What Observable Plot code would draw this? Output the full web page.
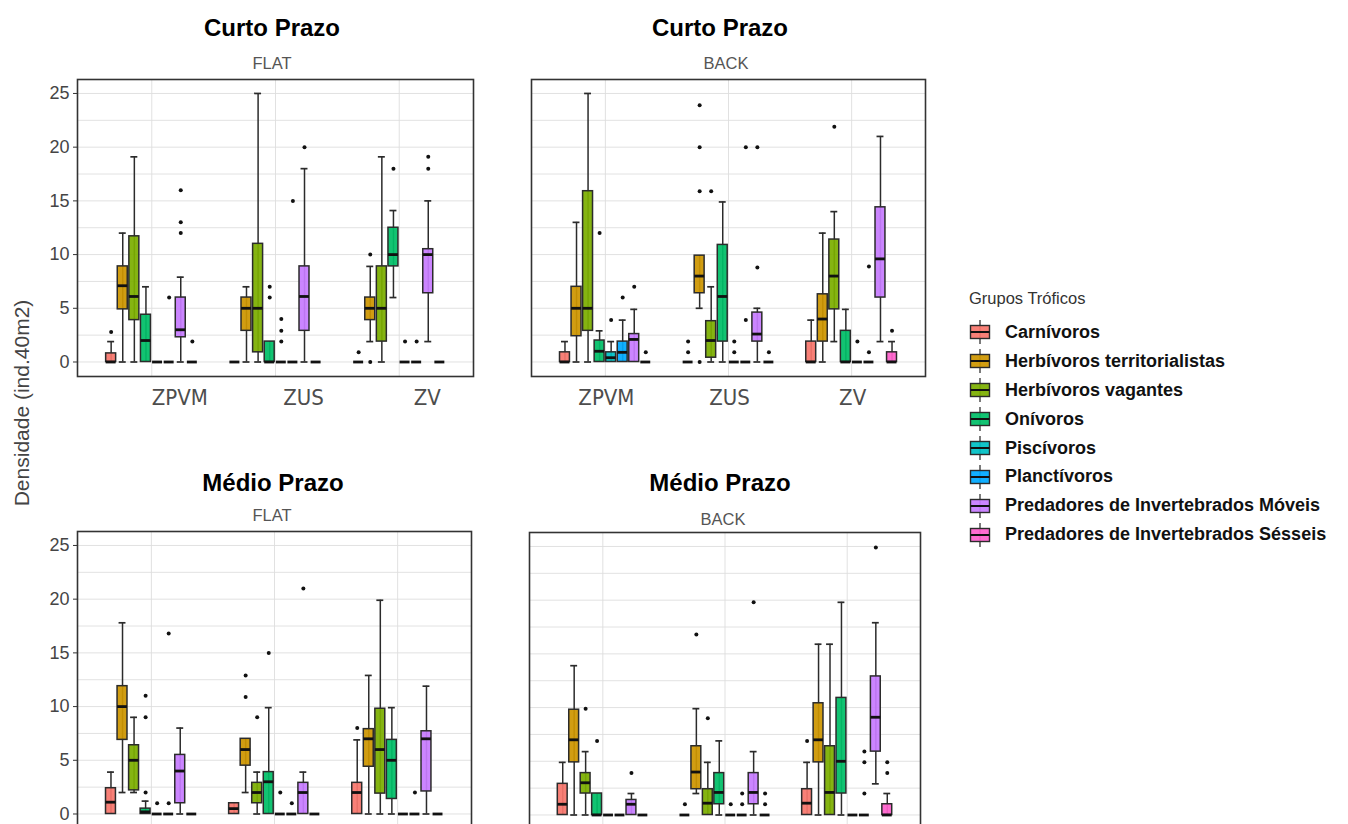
<!DOCTYPE html>
<html><head><meta charset="utf-8">
<script src="https://cdn.jsdelivr.net/npm/d3@7"></script>
<script src="https://cdn.jsdelivr.net/npm/@observablehq/plot@0.6"></script>
<style>
body{margin:0;background:#fff;font-family:"Liberation Sans",Arial,sans-serif;}
#wrap{position:relative;width:1348px;height:824px;overflow:hidden;background:#fff;}
.panel{position:absolute;}
.title{position:absolute;transform:translate(-50%,-50%);font-weight:bold;font-size:24px;color:#000;white-space:nowrap;}
.sub{position:absolute;transform:translate(-50%,-50%);font-size:16.5px;color:#555;white-space:nowrap;}
.ytitle{position:absolute;left:22px;top:403px;transform:translate(-50%,-50%) rotate(-90deg);font-size:21px;color:#444;white-space:nowrap;}
.legend{position:absolute;left:969px;top:287px;}
.legend .lt{font-size:16.5px;color:#333;height:22px;line-height:22px;margin-bottom:9px;}
.legend .row{display:flex;align-items:center;height:28.9px;}
.legend .row svg{margin-right:14px;}
.legend .row span{font-weight:bold;font-size:18px;color:#111;}
</style></head>
<body><div id="wrap"></div>
<script>
// ---- categories ----
const groups = ["Carnívoros","Herbívoros territorialistas","Herbívoros vagantes","Onívoros","Piscívoros","Planctívoros","Predadores de Invertebrados Móveis","Predadores de Invertebrados Sésseis"];
const groupColors = ["#F8766D","#CD9600","#7CAE00","#00BE67","#00BFC4","#00A9FF","#C77CFF","#FF61CC"];
const sites = ["ZPVM","ZUS","ZV"];
const yTicks = [0,5,10,15,20,25];

// ---- box statistics: [lower whisker, Q1, median, Q3, upper whisker], one per trophic group ----
// Curto Prazo – FLAT
const cpFlatZPVM = [[0,0,0,0.8,1.9],[0,4.9,7.1,8.9,12],[0,3.9,6.1,11.7,19.1],[0,0,2,4.4,7],[0,0,0,0,0],[0,0,0,0,0],[0,2.3,3,6,7.9],[0,0,0,0,0]];
const cpFlatZUS  = [[0,0,0,0,0],[0,2.9,5,6,7],[0,0.9,5,11,25],[0,0,0,1.9,1.9],[0,0,0,0,0],[0,0,0,0,0],[0,2.9,6.1,8.9,18],[0,0,0,0,0]];
const cpFlatZV   = [[0,0,0,0,0],[1.9,3.9,5,6,8.9],[0,1.9,5,8.9,19.1],[6,8.9,10,12.5,14.1],[0,0,0,0,0],[0,0,0,0,0],[1.9,6.4,10,10.5,15],[0,0,0,0,0]];
// Curto Prazo – BACK
const cpBackZPVM = [[0,0,0,0.9,1.9],[0,2.4,5,7,13],[0,2.9,5,15.9,25],[0,0,1,2,2.9],[0,0,0.4,0.9,1.9],[0,0,0.9,1.9,3.9],[0,0,2.1,2.6,4.9],[0,0,0,0,0]];
const cpBackZUS  = [[0,0,0,0,0],[5,6.4,8,9.9,9.9],[0,0.4,2,3.8,7],[0,1.9,6.1,10.9,14.9],[0,0,0,0,0],[0,0,0,0,0],[0,1.9,2.6,4.6,5],[0,0,0,0,0]];
const cpBackZV   = [[0,0,0,1.9,3.9],[0,1.9,4,6.3,12],[1.9,4.9,8,11.4,14],[0,0,0,2.9,4.9],[0,0,0,0,0],[0,0,0,0,0],[1.9,6,9.6,14.4,21],[0,0,0,0.9,1.9]];
// Médio Prazo – FLAT
const mpFlatZPVM = [[0,0,1.1,2.4,3.9],[2,6.9,10,11.9,17.8],[2,2.2,5,6.4,9],[0,0,0.2,0.5,1.2],[0,0,0,0,0],[0,0,0,0,0],[0,1,4,5.5,8],[0,0,0,0,0]];
const mpFlatZUS  = [[0,0,0.5,1,1],[2,4.5,6,7,7],[0,1,2,2.9,3.9],[0,0,3,3.9,9.9],[0,0,0,0,0],[0,0,0,0,0],[0,0,2,2.9,3.9],[0,0,0,0,0]];
const mpFlatZV   = [[0,0,2,2.9,6.9],[0,4.4,7,7.9,12.9],[0,1.9,6,9.8,19.9],[0,1.4,5,6.9,9.9],[0,0,0,0,0],[0,0,0,0,0],[0,2.1,7,7.7,11.9],[0,0,0,0,0]];
// Médio Prazo – BACK
const mpBackZPVM = [[0,0,1,2.9,4.9],[0,4.9,7,9.8,13.9],[0,2,3,3.9,5.9],[0,0,0,2,2],[0,0,0,0,0],[0,0,0,0,0],[0,0,1,1.4,2],[0,0,0,0,0]];
const mpBackZUS  = [[0,0,0,0,0],[2,2.4,4,6.4,9.9],[0,0,1.1,2.4,4.9],[0,1,2.1,3.9,6.9],[0,0,0,0,0],[0,0,0,0,0],[0,1,2.1,3.9,5.9],[0,0,0,0,0]];
const mpBackZV   = [[0,0,1.1,2.4,4.9],[0,4.9,7,10.4,15.9],[0,0,2.1,6.4,15.9],[0,2,5,10.9,19.8],[0,0,0,0,0],[0,0,0,0,0],[2.9,5.9,9.1,12.9,17.9],[0,0,0,1,2]];

// ---- outliers: [site, group index, value] ----
const cpFlatOut = [["ZPVM",0,2.8],["ZPVM",5,6],["ZPVM",6,12],["ZPVM",6,13],["ZPVM",6,16],["ZPVM",7,1.9],
  ["ZUS",3,6],["ZUS",3,7],["ZUS",4,1.9],["ZUS",4,2.9],["ZUS",4,4],["ZUS",5,15],["ZUS",6,20],
  ["ZV",0,0.9],["ZV",1,0],["ZV",1,10],["ZV",3,18],["ZV",4,1.9],["ZV",5,1.9],["ZV",6,18],["ZV",6,19.1]];
const cpBackOut = [["ZPVM",3,12],["ZPVM",4,3.9],["ZPVM",5,6],["ZPVM",6,7],["ZPVM",7,0.9],
  ["ZUS",0,0.9],["ZUS",0,1.9],["ZUS",1,0],["ZUS",1,15.9],["ZUS",1,20],["ZUS",1,23.9],["ZUS",2,15.9],["ZUS",4,0.9],["ZUS",4,1.9],["ZUS",5,3.9],["ZUS",5,20],["ZUS",6,8.8],["ZUS",6,20],["ZUS",7,0.9],
  ["ZV",2,21.9],["ZV",4,1.9],["ZV",5,0.9],["ZV",5,8.9],["ZV",7,2.9]];
const mpFlatOut = [["ZPVM",3,2],["ZPVM",3,9],["ZPVM",3,11],["ZPVM",4,1],["ZPVM",5,1],["ZPVM",5,16.8],
  ["ZUS",1,10.9],["ZUS",1,12.9],["ZUS",2,9],["ZUS",3,15],["ZUS",4,2],["ZUS",5,1],["ZUS",6,21],
  ["ZV",0,8],["ZV",5,2]];
const mpBackOut = [["ZPVM",2,9.9],["ZPVM",3,6.9],["ZPVM",6,3.9],
  ["ZUS",0,1],["ZUS",1,16.8],["ZUS",2,9],["ZUS",4,1],["ZUS",5,1],["ZUS",5,2],["ZUS",6,19.8],["ZUS",7,1],["ZUS",7,2],
  ["ZV",0,6.9],["ZV",5,2],["ZV",5,4.9],["ZV",5,5.9],["ZV",6,24.9],["ZV",7,3.9],["ZV",7,4.9]];

// ---- drawing ----
const SLOT = 0.75 / groups.length;
const cx = d => d.si + (d.g - (groups.length - 1) / 2) * SLOT;
const wrap = d3.select("#wrap");

function panel({stats, outliers, left, top, frameLeft, frameW, frameTop, yAxis, xAxis, labelDx}) {
  const rows = stats.flatMap((arr, si) => arr.map((v, g) => ({site: sites[si], si: si + 1, g, group: groups[g], lo: v[0], q1: v[1], med: v[2], q3: v[3], hi: v[4]})));
  const outs = outliers.map(([s, g, v]) => ({si: sites.indexOf(s) + 1, g, v}));
  const frameH = 297;
  const marginLeft = frameLeft - left, marginTop = frameTop - top, marginRight = 10, marginBottom = 42;
  const marks = [
    Plot.gridY({ticks: d3.range(0, 25.01, 2.5), stroke: "#dedede", strokeOpacity: 1, strokeWidth: 0.9}),
    Plot.gridX({ticks: [1, 2, 3], stroke: "#dedede", strokeOpacity: 1, strokeWidth: 0.9}),
    Plot.ruleX(rows, {x: cx, y1: "lo", y2: "hi", stroke: "#2b2b2b", strokeWidth: 1.5}),
    Plot.ruleY(rows.filter(d => d.hi > d.q3), {y: "hi", x1: d => cx(d) - SLOT * 0.3, x2: d => cx(d) + SLOT * 0.3, stroke: "#2b2b2b", strokeWidth: 1.7}),
    Plot.ruleY(rows.filter(d => d.lo < d.q1), {y: "lo", x1: d => cx(d) - SLOT * 0.3, x2: d => cx(d) + SLOT * 0.3, stroke: "#2b2b2b", strokeWidth: 1.7}),
    Plot.rect(rows.filter(d => d.q3 > d.q1), {x1: d => cx(d) - SLOT * 0.43, x2: d => cx(d) + SLOT * 0.43, y1: "q1", y2: "q3", fill: "group", fillOpacity: 0.93, stroke: "#2b2b2b", strokeWidth: 1.5}),
    Plot.ruleY(rows, {y: "med", x1: d => cx(d) - SLOT * 0.43, x2: d => cx(d) + SLOT * 0.43, stroke: "#111", strokeWidth: 2.8}),
    Plot.dot(outs, {x: cx, y: "v", r: 2, fill: "#111", stroke: null}),
    Plot.frame({stroke: "#333", strokeWidth: 1.6})
  ];
  if (xAxis) marks.push(Plot.axisX({ticks: [1, 2, 3], tickFormat: i => sites[i - 1], tickSize: 0, tickPadding: 13, dx: labelDx, fontSize: 22, fontFamily: "'Liberation Sans Narrow','DejaVu Sans Condensed','Arial Narrow',sans-serif", fill: "#4d4d4d", label: null}));
  if (yAxis) marks.push(Plot.axisY({ticks: yTicks, tickSize: 4, tickPadding: 4, fontSize: 18, fill: "#454545", stroke: "#333", label: null}));
  const chart = Plot.plot({
    width: marginLeft + frameW + marginRight,
    height: marginTop + frameH + marginBottom,
    marginLeft, marginTop, marginRight, marginBottom,
    x: {type: "linear", domain: [0.4, 3.6], axis: null},
    y: {domain: [-1.35, 26.3], axis: null},
    color: {domain: groups, range: groupColors},
    style: {fontFamily: "'Liberation Sans',Arial,sans-serif", background: "transparent", overflow: "visible"},
    marks
  });
  wrap.append("div").attr("class", "panel").style("left", left + "px").style("top", top + "px").node().appendChild(chart);
}

panel({stats: [cpFlatZPVM, cpFlatZUS, cpFlatZV], outliers: cpFlatOut, left: 0, top: 70, frameLeft: 77, frameW: 396, frameTop: 79, yAxis: true, xAxis: true, labelDx: 28});
panel({stats: [cpBackZPVM, cpBackZUS, cpBackZV], outliers: cpBackOut, left: 521, top: 70, frameLeft: 531, frameW: 394, frameTop: 79, yAxis: false, xAxis: true, labelDx: 1});
panel({stats: [mpFlatZPVM, mpFlatZUS, mpFlatZV], outliers: mpFlatOut, left: 0, top: 522, frameLeft: 77, frameW: 394, frameTop: 531, yAxis: true, xAxis: false, labelDx: 28});
panel({stats: [mpBackZPVM, mpBackZUS, mpBackZV], outliers: mpBackOut, left: 519, top: 522, frameLeft: 529, frameW: 391, frameTop: 532, yAxis: false, xAxis: false, labelDx: 1});

// titles
const titles = [["Curto Prazo", 272, 28], ["Curto Prazo", 720, 28], ["Médio Prazo", 273, 483], ["Médio Prazo", 720, 483]];
const subs = [["FLAT", 272, 63], ["BACK", 726, 63], ["FLAT", 272, 515], ["BACK", 723, 519]];
titles.forEach(([t, x, y]) => wrap.append("div").attr("class", "title").style("left", x + "px").style("top", y + "px").text(t));
subs.forEach(([t, x, y]) => wrap.append("div").attr("class", "sub").style("left", x + "px").style("top", y + "px").text(t));
wrap.append("div").attr("class", "ytitle").text("Densidade (ind.40m2)");

// legend
const lg = wrap.append("div").attr("class", "legend");
lg.append("div").attr("class", "lt").text("Grupos Tróficos");
groups.forEach((g, i) => {
  const row = lg.append("div").attr("class", "row");
  const s = row.append("svg").attr("width", 22).attr("height", 24);
  s.append("line").attr("x1", 11).attr("x2", 11).attr("y1", 0).attr("y2", 24).attr("stroke", "#333").attr("stroke-width", 1.3);
  s.append("rect").attr("x", 1.5).attr("y", 5.5).attr("width", 19).attr("height", 13).attr("fill", groupColors[i]).attr("fill-opacity", 0.93).attr("stroke", "#2b2b2b").attr("stroke-width", 1.4);
  s.append("line").attr("x1", 1.5).attr("x2", 20.5).attr("y1", 12).attr("y2", 12).attr("stroke", "#111").attr("stroke-width", 2);
  row.append("span").text(g);
});
</script>
</body></html>
